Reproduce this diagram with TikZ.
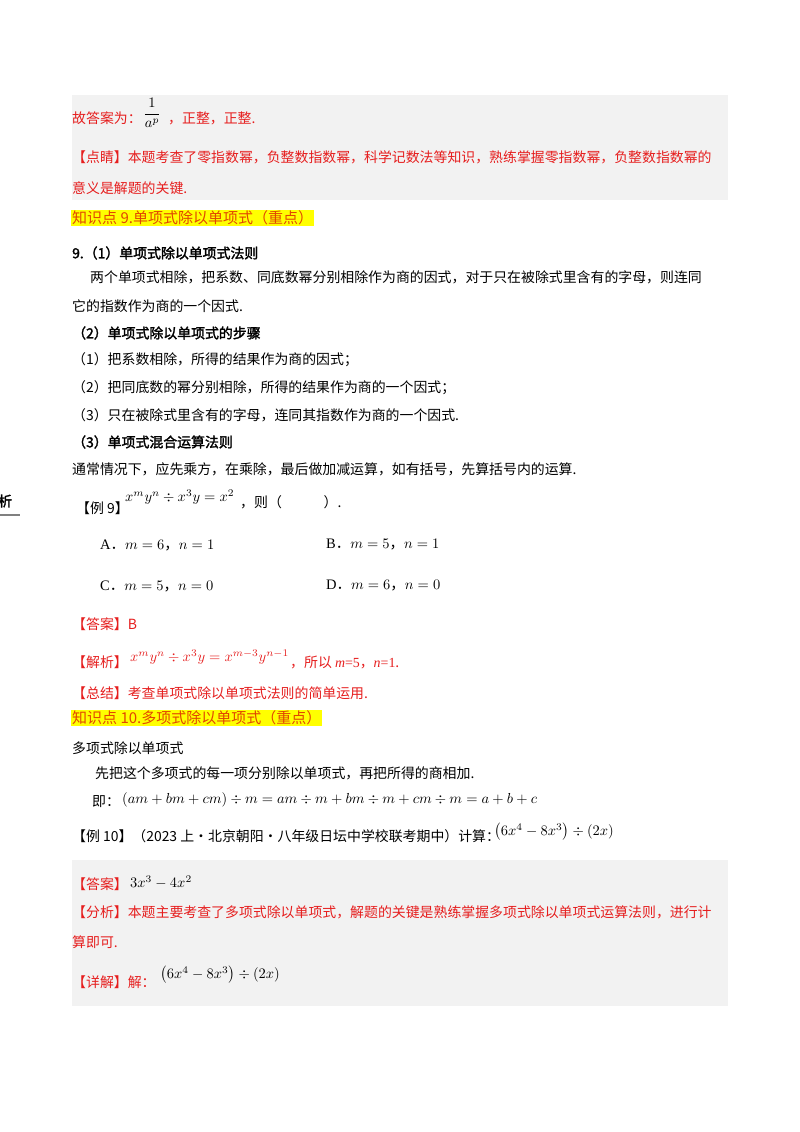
\documentclass[tikz,border=0pt]{standalone}
\usepackage{amsmath}
\usepackage{graphicx}
\usepackage{fontspec}
\setmainfont{Liberation Serif}
\newfontfamily\cjk{Noto Sans CJK SC}
\newfontfamily\cjkb[FakeBold=2]{Noto Sans CJK SC}
\definecolor{rd}{RGB}{230,30,30}
\definecolor{gbox}{RGB}{242,242,242}
\definecolor{hl}{RGB}{255,255,0}
\definecolor{hltext}{RGB}{225,70,0}
\newcommand{\bm}[1]{\scalebox{1.45}{#1}}
\begin{document}
\begin{tikzpicture}[x=1pt,y=-1pt,
  txt/.style={anchor=west,inner sep=0pt,font=\fontsize{13.9}{15}\selectfont\cjk},
  red/.style={txt,text=rd},
  bld/.style={txt,font=\fontsize{13.9}{15}\selectfont\cjkb},
  mth/.style={anchor=west,inner sep=0pt},
  head/.style={anchor=west,inner sep=1pt,fill=hl,text=hltext,font=\fontsize{15}{17}\selectfont\cjk}]
\fill[white] (0,0) rectangle (800,1132);
\useasboundingbox (0,0) rectangle (800,1132);
\fill[gbox] (72,95) rectangle (728,200);
\fill[gbox] (72,860) rectangle (728,1006);
\node[red] (l1) at (72,118) {故答案为：};
\node[mth] (fr) at (143,113) {\bm{$\dfrac{1}{a^{p}}$}};
\node[red] (l1b) at (168,118) {，正整，正整.};
\node[red] (l2) at (72,157) {【点睛】本题考查了零指数幂，负整数指数幂，科学记数法等知识，熟练掌握零指数幂，负整数指数幂的};
\node[red] (l3) at (72,188) {意义是解题的关键.};
\node[head] (h9) at (71,218) {知识点 9.单项式除以单项式（重点）};
\node[bld] (s1) at (72,253) {9.（1）单项式除以单项式法则};
\node[txt] (s2) at (90,277) {两个单项式相除，把系数、同底数幂分别相除作为商的因式，对于只在被除式里含有的字母，则连同};
\node[txt] (s3) at (72,306) {它的指数作为商的一个因式.};
\node[bld] (s4) at (72,333) {（2）单项式除以单项式的步骤};
\node[txt] (s5) at (72,360) {（1）把系数相除，所得的结果作为商的因式；};
\node[txt] (s6) at (72,388) {（2）把同底数的幂分别相除，所得的结果作为商的一个因式；};
\node[txt] (s7) at (72,415) {（3）只在被除式里含有的字母，连同其指数作为商的一个因式.};
\node[bld] (s8) at (72,442) {（3）单项式混合运算法则};
\node[txt] (s9) at (72,469) {通常情况下，应先乘方，在乘除，最后做加减运算，如有括号，先算括号内的运算.};
\node[bld] (xi) at (-2,501) {析};
\draw[gray,line width=1.5pt] (0,515) -- (20,515);
\node[txt] (e9) at (76,508) {【例 9】};
\node[mth] (e9f) at (125,497) {\bm{$x^{m}y^{n}\div x^{3}y=x^{2}$}};
\node[txt] (e9b) at (240,502) {，则（\qquad\quad）.};
\node[mth] (oa) at (100,545) {\bm{A{\cjk ．}$m=6${\cjk ，}$n=1$}};
\node[mth] (ob) at (326,545) {\bm{B{\cjk ．}$m=5${\cjk ，}$n=1$}};
\node[mth] (oc) at (100,586) {\bm{C{\cjk ．}$m=5${\cjk ，}$n=0$}};
\node[mth] (od) at (326,586) {\bm{D{\cjk ．}$m=6${\cjk ，}$n=0$}};
\node[red] (a9) at (72,624) {【答案】\fontsize{14}{16}\selectfont B};
\node[red] (j9) at (72,662) {【解析】};
\node[mth,text=rd] (j9f) at (130,657) {\bm{$x^{m}y^{n}\div x^{3}y=x^{m-3}y^{n-1}$}};
\node[red] (j9b) at (290,662) {，所以 {\rmfamily\textit{m}=5}，{\rmfamily\textit{n}=1}.};
\node[red] (z9) at (72,693) {【总结】考查单项式除以单项式法则的简单运用.};
\node[head] (h10) at (71,718) {知识点 10.多项式除以单项式（重点）};
\node[txt] (p1) at (72,748) {多项式除以单项式};
\node[txt] (p2) at (95,773) {先把这个多项式的每一项分别除以单项式，再把所得的商相加.};
\node[txt] (p3) at (92,802) {即：};
\node[mth] (p3f) at (122,800) {\bm{$(am+bm+cm)\div m=am\div m+bm\div m+cm\div m=a+b+c$}};
\node[txt] (e10) at (72,836) {【例 10】（2023 上·北京朝阳·八年级日坛中学校联考期中）计算：};
\node[mth] (e10f) at (494,832) {\bm{$\left(6x^{4}-8x^{3}\right)\div\left(2x\right)$}};
\node[red] (a10) at (72,884) {【答案】};
\node[mth] (a10f) at (130,882) {\bm{$3x^{3}-4x^{2}$}};
\node[red] (f10) at (72,912) {【分析】本题主要考查了多项式除以单项式，解题的关键是熟练掌握多项式除以单项式运算法则，进行计};
\node[red] (f10b) at (72,942) {算即可.};
\node[red] (d10) at (72,982) {【详解】解：};
\node[mth] (d10f) at (160,975) {\bm{$\left(6x^{4}-8x^{3}\right)\div\left(2x\right)$}};
\end{tikzpicture}
\end{document}
